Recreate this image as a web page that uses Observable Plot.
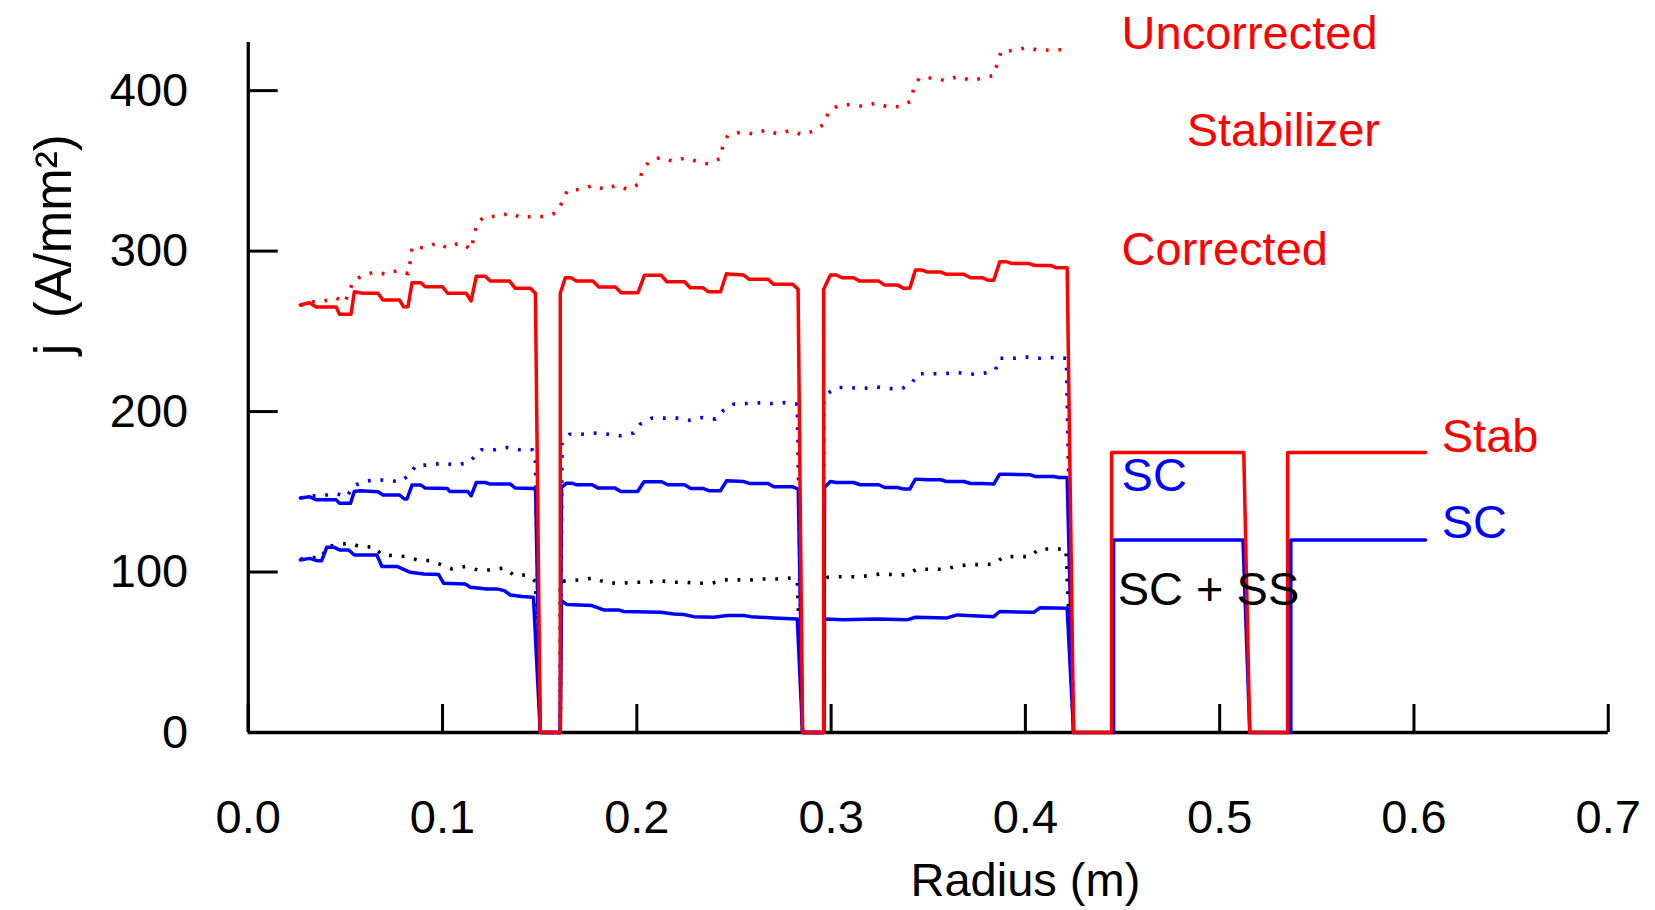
<!DOCTYPE html>
<html><head><meta charset="utf-8">
<script src="https://cdn.jsdelivr.net/npm/d3@7"></script>
<script src="https://cdn.jsdelivr.net/npm/@observablehq/plot@0.6"></script>
<style>html,body{margin:0;padding:0;background:#fff;} #chart svg{display:block}</style>
</head><body><div id="chart"></div>
<script>
const xTicks = [0, 0.1, 0.2, 0.3, 0.4, 0.5, 0.6, 0.7];
const yTicks = [0, 100, 200, 300, 400];

// Stabilizer, uncorrected (red dotted)
const redUncorrected = [[0.0268,266],[0.0315,268.5],[0.0378,268.3],[0.045,271],[0.0497,268],[0.0541,281.3],[0.059,284.9],[0.0655,287.1],[0.071,285.5],[0.0775,288.2],[0.0823,285.9],[0.0835,294.2],[0.0843,302.5],[0.0912,302],[0.0971,305.2],[0.1024,302],[0.109,305.2],[0.1149,301],[0.1163,310.4],[0.118,318],[0.1223,321.8],[0.1287,321.4],[0.1347,323.9],[0.1406,320.7],[0.1465,321.8],[0.1524,321.4],[0.1586,323.9],[0.1616,330.5],[0.1643,338],[0.171,338.4],[0.1775,341],[0.1834,338.4],[0.1894,341],[0.1953,338.4],[0.2012,341.9],[0.2027,350],[0.2065,356],[0.2124,358.5],[0.2183,356],[0.2248,358],[0.2307,356],[0.2367,354.3],[0.2429,357.7],[0.2443,365.7],[0.247,372.5],[0.2538,374.2],[0.2603,373],[0.2665,375.5],[0.2724,373],[0.2789,375.1],[0.2851,372.5],[0.2916,375.1],[0.2966,379.3],[0.2987,387.1],[0.304,390.9],[0.31,391.3],[0.3167,390.2],[0.3232,392.3],[0.3297,389.6],[0.336,390.2],[0.341,393.4],[0.3425,401.2],[0.3454,407.9],[0.352,407.9],[0.3587,406.3],[0.3655,408.9],[0.372,406.3],[0.3785,407.9],[0.3838,409.5],[0.3856,417.3],[0.3877,424.9],[0.3942,424.9],[0.401,427],[0.4075,424.9],[0.4143,425.5],[0.4208,425.5]];

// Stabilizer, corrected (red solid)
const redCorrected = [[0.0268,266.4],[0.0315,267.8],[0.035,265.2],[0.0453,265.2],[0.047,260.6],[0.0529,260.6],[0.0546,274.7],[0.059,273.7],[0.0668,273.7],[0.0693,269.5],[0.0779,269.5],[0.08,265.3],[0.0822,265.3],[0.0843,280.3],[0.0889,280.3],[0.0911,277.8],[0.1,277.8],[0.1026,273.7],[0.1122,273.7],[0.1147,268.9],[0.1174,284.4],[0.122,284.4],[0.1246,281.3],[0.1345,281.3],[0.1375,276.8],[0.1452,276.8],[0.1478,273.7],[0.1503,0],[0.1606,0],
[0.1606,273.7],[0.1632,283.4],[0.1661,283.4],[0.1689,281.3],[0.1775,281.3],[0.1804,277.6],[0.189,277.6],[0.192,274.1],[0.2006,274.1],[0.2039,284.9],[0.2126,284.9],[0.2155,280.9],[0.2246,280.9],[0.2275,277.2],[0.2339,277.2],[0.2367,274.7],[0.2431,274.7],[0.2461,285.9],[0.2491,285.5],[0.255,285.1],[0.2579,282.4],[0.2676,282.4],[0.2705,279.3],[0.2803,279.3],[0.283,276.2],[0.2853,0],[0.2962,0],
[0.2962,276.2],[0.2996,285.1],[0.3027,285.1],[0.3057,283.4],[0.3116,283.4],[0.3147,281.3],[0.3245,281.3],[0.3276,278.8],[0.3343,278.8],[0.3374,276.8],[0.3405,276.8],[0.3434,288.2],[0.3468,288.2],[0.3494,287],[0.3563,287],[0.3594,285.5],[0.3683,285.5],[0.3718,283.4],[0.3777,283.4],[0.3811,281.8],[0.3837,281.8],[0.3868,293.3],[0.3903,293.3],[0.3932,292.3],[0.4017,292.3],[0.4048,291.1],[0.413,291.1],[0.416,289.6],[0.4215,289.6],[0.4248,0],[0.4444,0],
[0.4444,174.5],[0.5124,174.5],[0.5155,0],[0.535,0],[0.535,174.5],[0.606,174.5]];

// Superconductor, uncorrected (blue dotted)
const blueUncorrected = [[0.0268,146.1],[0.0315,147.5],[0.0378,147.5],[0.0448,149],[0.0507,146.9],[0.0541,153.6],[0.0593,156.3],[0.0658,157.7],[0.0721,156.9],[0.0785,156.4],[0.0833,161],[0.0864,166.6],[0.0933,166.6],[0.0998,167.9],[0.1061,166.8],[0.113,167.9],[0.1161,171.4],[0.12,176.2],[0.1269,176.2],[0.1333,177.6],[0.1398,176.2],[0.1462,176.2],[0.1478,169],[0.1503,0],[0.1606,0],
[0.1615,179.7],[0.1654,185.9],[0.1718,185.9],[0.1787,186.6],[0.1852,185.9],[0.1915,184.9],[0.1984,186.6],[0.2018,192.2],[0.2078,195.9],[0.214,195.9],[0.2206,195.9],[0.2271,194.6],[0.2339,196.3],[0.2405,195.3],[0.2448,201],[0.2496,204.6],[0.2565,205],[0.2632,205.4],[0.2697,205],[0.2767,205.6],[0.2826,204.6],[0.2853,0],[0.2962,0],
[0.2962,205],[0.2976,210.8],[0.3027,215],[0.3096,215],[0.3163,214.3],[0.3232,215.4],[0.3297,214.3],[0.3365,214.3],[0.3414,217.4],[0.3448,223.6],[0.3517,223.6],[0.3585,223.6],[0.3652,224.3],[0.3721,223.3],[0.3786,223.9],[0.3846,226],[0.3868,233.2],[0.394,233.2],[0.4009,234],[0.4074,233.2],[0.4143,233.6],[0.4211,233.2],[0.4248,0]];

// Superconductor, corrected (blue solid, upper)
const blueCorrected = [[0.0268,146.1],[0.0316,146.9],[0.035,145],[0.0453,145],[0.047,142.8],[0.0526,142.8],[0.0546,150.2],[0.0574,150.6],[0.0668,150],[0.0693,148],[0.0779,148],[0.0803,145.5],[0.0817,145.5],[0.0843,154.2],[0.0889,154.2],[0.0911,152.3],[0.1024,152.1],[0.1037,150.2],[0.113,150.2],[0.1147,147.5],[0.1174,155.8],[0.122,155.8],[0.1246,154.8],[0.1349,154.8],[0.1375,152.3],[0.1469,152.1],[0.1479,150.7],[0.1503,0],[0.1606,0],
[0.1612,152.7],[0.1638,155.4],[0.1664,155.4],[0.169,154.4],[0.177,154.4],[0.1801,152.3],[0.1888,152.3],[0.1918,150.2],[0.2004,150.2],[0.2037,156.3],[0.2128,156.3],[0.2159,154.4],[0.2246,154.4],[0.2278,152.1],[0.234,152.1],[0.2371,150.7],[0.2431,150.7],[0.2462,156.9],[0.2551,156.4],[0.258,155.2],[0.2676,155.2],[0.2705,153.1],[0.2803,153.1],[0.2831,151.7],[0.2853,0],[0.2962,0],
[0.2966,152.7],[0.2996,156.4],[0.3027,155.8],[0.3116,155.8],[0.315,154.4],[0.3245,154.4],[0.3276,152.7],[0.3343,152.7],[0.3374,151.7],[0.3405,151.7],[0.3434,157.9],[0.3494,157.5],[0.3563,157.5],[0.3594,156.4],[0.3683,156.4],[0.3718,155.2],[0.3777,155.2],[0.3837,154.8],[0.3868,161],[0.3903,161],[0.4026,160.6],[0.4052,159.5],[0.4146,159.5],[0.4172,158.9],[0.4215,158.9],[0.4248,0],[0.4454,0],
[0.4454,120],[0.512,120],[0.5155,0],[0.5366,0],[0.5366,120],[0.606,120]];

// SC + SS, uncorrected (black dotted)
const scssUncorrected = [[0.0268,108],[0.0316,109.1],[0.0378,108.8],[0.0404,115.8],[0.0455,117],[0.0525,117.9],[0.0585,115.4],[0.0648,115.8],[0.0688,110.6],[0.0748,110.2],[0.0813,109.6],[0.0872,107.5],[0.0937,107.1],[0.0992,104.6],[0.1049,101.9],[0.1117,103.4],[0.1181,101.3],[0.1251,101.3],[0.1318,102.6],[0.137,97.8],[0.1435,98.2],[0.1478,94.2],[0.1503,0],[0.1606,0],
[0.1606,94],[0.164,94.6],[0.1712,95.1],[0.1777,96.3],[0.1846,93.2],[0.1915,93],[0.198,93.6],[0.2049,93.6],[0.2116,94.6],[0.2185,93.6],[0.225,93.6],[0.2319,93],[0.2384,93],[0.2451,95.1],[0.2516,95.1],[0.2585,95.1],[0.2654,95.7],[0.2723,95.7],[0.2792,96.3],[0.2826,95],[0.2853,0],[0.2962,0],
[0.2962,96],[0.2979,96.7],[0.3051,97.1],[0.312,97.1],[0.3185,97.6],[0.3254,98.8],[0.3319,98.4],[0.3388,98.2],[0.3443,101.9],[0.3512,101.7],[0.3581,101.7],[0.3646,103.5],[0.3709,104.6],[0.3778,104.6],[0.3838,105],[0.3889,109.6],[0.3958,109.6],[0.4026,109.6],[0.4069,114.4],[0.4141,114.4],[0.4209,114.4],[0.4248,0]];

// SC + SS, corrected (blue solid, lower)
const scssCorrected = [[0.0268,107.5],[0.0316,108.5],[0.0353,107.1],[0.0378,107.1],[0.0404,115.4],[0.0442,115.4],[0.047,113.8],[0.0516,113.8],[0.0546,110.6],[0.0662,110.6],[0.0688,103.5],[0.0765,103.5],[0.0834,99.8],[0.0903,98.8],[0.098,98.4],[0.1006,93],[0.1117,92.6],[0.1143,90.5],[0.1229,89.5],[0.128,89.5],[0.1318,88.4],[0.1349,85.7],[0.1409,84.7],[0.1468,84.3],[0.1503,0],[0.1606,0],
[0.1612,82.2],[0.164,79.7],[0.1769,79.1],[0.1829,76.4],[0.1906,76.4],[0.1932,75.4],[0.2123,74.9],[0.219,73.9],[0.2242,73.5],[0.2293,72.2],[0.2396,71.8],[0.2465,72.9],[0.2551,72.9],[0.2586,72.2],[0.2705,71.4],[0.2826,70.8],[0.2853,0],[0.2962,0],
[0.2966,70.8],[0.3065,70.2],[0.3237,70.8],[0.3391,70.2],[0.3434,71.8],[0.3597,71.4],[0.3649,73.3],[0.3837,72.2],[0.3868,75.4],[0.4043,74.9],[0.4074,77.7],[0.4215,77.4],[0.4248,0]];

const labelTexts = ["Uncorrected", "Stabilizer", "Corrected", "Stab", "SC", "SC", "SC + SS"];
const labelX = [0.4495, 0.483, 0.4495, 0.6143, 0.4495, 0.6143, 0.4475];
const labelY = [426, 365.6, 291.4, 175, 150.6, 121.3, 79.2];
const labelColors = ["#ff0000", "#ff0000", "#ff0000", "#ff0000", "#0000ff", "#0000ff", "#000000"];

const xAxisTitle = "Radius (m)";
const yAxisTitle = "j\u2002(A/mm²)";

const FS = 47;
const px = d => d[0], py = d => d[1];
const dotted = {strokeWidth: 3.6, strokeDasharray: "2.8,9.8", strokeLinecap: "butt", strokeLinejoin: "round"};
const solid = {strokeWidth: 3.5, strokeLinejoin: "round"};

const chart = Plot.plot({
  width: 1655,
  height: 910,
  marginLeft: 247.75,
  marginRight: 47.25,
  marginTop: 42,
  marginBottom: 178,
  style: {fontFamily: "'Liberation Sans', Arial, sans-serif", fontSize: FS + "px", background: "#fff", color: "#000"},
  x: {domain: [0, 0.7]},
  y: {domain: [0, 430]},
  color: {type: "identity"},
  marks: [
    Plot.axisX({ticks: xTicks, tickSize: -28, fill: "none", strokeWidth: 3, label: null}),
    Plot.axisY({ticks: yTicks, tickSize: -30, fill: "none", strokeWidth: 3, label: null}),
    Plot.axisX({ticks: xTicks, tickSize: 0, tickPadding: 67, tickFormat: d3.format(".1f"), fontSize: FS, label: null}),
    Plot.axisY({ticks: yTicks, tickSize: 0, tickPadding: 60, tickFormat: d3.format("d"), fontSize: FS, label: null}),
    Plot.ruleX([0], {stroke: "#000", strokeWidth: 3.3}),
    Plot.ruleY([0], {stroke: "#000", strokeWidth: 3.3}),
    Plot.line(blueUncorrected, {x: px, y: py, stroke: "#0000ff", ...dotted}),
    Plot.line(scssUncorrected, {x: px, y: py, stroke: "#000000", ...dotted}),
    Plot.line(scssCorrected, {x: px, y: py, stroke: "#0000ff", ...solid}),
    Plot.line(blueCorrected, {x: px, y: py, stroke: "#0000ff", ...solid}),
    Plot.line(redUncorrected, {x: px, y: py, stroke: "#ff0000", ...dotted}),
    Plot.line(redCorrected, {x: px, y: py, stroke: "#ff0000", ...solid}),
    Plot.text(labelTexts, {x: (d, i) => labelX[i], y: (d, i) => labelY[i], text: d => d, fill: (d, i) => labelColors[i], textAnchor: "start", lineAnchor: "bottom", fontSize: FS}),
    Plot.text([xAxisTitle], {x: 0.4, frameAnchor: "bottom", dy: 163, text: d => d, textAnchor: "middle", lineAnchor: "bottom", fontSize: FS, fill: "#000"}),
    Plot.text([yAxisTitle], {y: 304, frameAnchor: "left", dx: -177.75, rotate: -90, text: d => d, textAnchor: "middle", lineAnchor: "bottom", fontSize: 51, fill: "#000"})
  ]
});
document.getElementById("chart").appendChild(chart);
</script>
</body></html>
